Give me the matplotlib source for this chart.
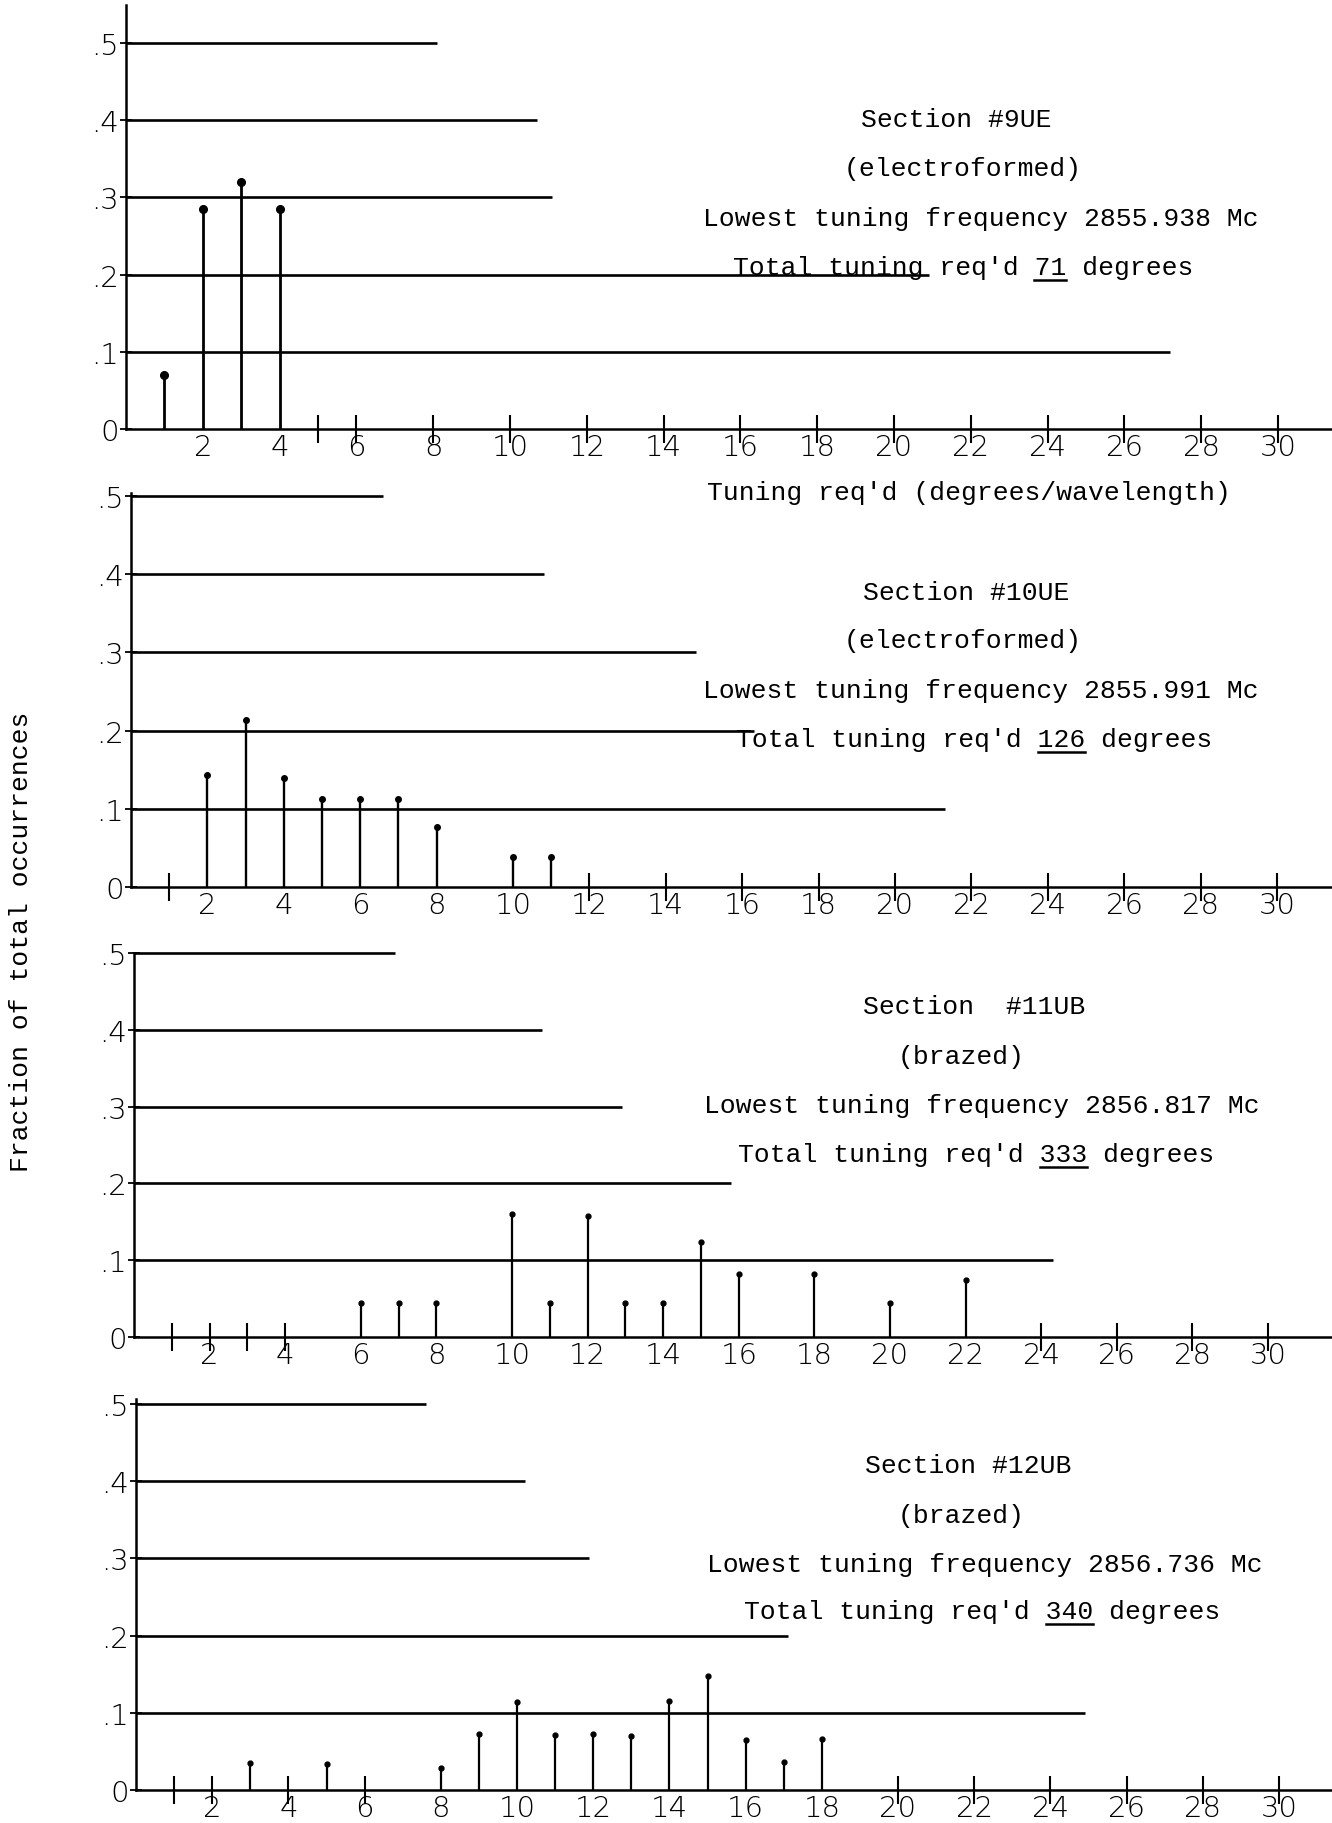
import matplotlib
matplotlib.use("Agg")
import matplotlib.pyplot as plt

W, H = 1332, 1824
MONO = "Liberation Mono"

# --- data ------------------------------------------------------------------
levels = [0.1, 0.2, 0.3, 0.4, 0.5]
level_labels = [".1", ".2", ".3", ".4", ".5"]
xtick_labels = [2, 4, 6, 8, 10, 12, 14, 16, 18, 20, 22, 24, 26, 28, 30]

s9_x = [1, 2, 3, 4]
s9_y = [0.07, 0.285, 0.32, 0.285]

s10_x = [2, 3, 4, 5, 6, 7, 8, 10, 11]
s10_y = [0.143, 0.214, 0.14, 0.113, 0.113, 0.113, 0.077, 0.038, 0.038]

s11_x = [6, 7, 8, 10, 11, 12, 13, 14, 15, 16, 18, 20, 22]
s11_y = [0.044, 0.044, 0.044, 0.16, 0.044, 0.157, 0.044, 0.044, 0.124,
         0.082, 0.082, 0.044, 0.074]

s12_x = [3, 5, 8, 9, 10, 11, 12, 13, 14, 15, 16, 17, 18]
s12_y = [0.035, 0.034, 0.029, 0.072, 0.114, 0.071, 0.072, 0.07, 0.115,
         0.148, 0.065, 0.036, 0.066]

# hand-drawn guide lines: where each level line stops (x units)
s9_line_ends = [27.2, 20.9, 11.1, 10.7, 8.1]
s10_line_ends = [21.3, 16.3, 14.8, 10.8, 6.6]
s11_line_ends = [24.3, 15.8, 12.9, 10.8, 6.9]
s12_line_ends = [24.9, 17.1, 11.9, 10.2, 7.6]

# positions where a tick was actually drawn on the x axis
s9_ticks = [5, 6, 8, 10, 12, 14, 16, 18, 20, 22, 24, 26, 28, 30]
s10_ticks = [1, 12, 14, 16, 18, 20, 22, 24, 26, 28, 30]
s11_ticks = [1, 2, 3, 4, 24, 26, 28, 30]
s12_ticks = [1, 2, 4, 6, 20, 22, 24, 26, 28, 30]

s9_text = ["Section #9UE", "(electroformed)",
           "Lowest tuning frequency 2855.938 Mc",
           "Total tuning req'd 71 degrees"]
s10_text = ["Section #10UE", "(electroformed)",
            "Lowest tuning frequency 2855.991 Mc",
            "Total tuning req'd 126 degrees"]
s11_text = ["Section  #11UB", "(brazed)",
            "Lowest tuning frequency 2856.817 Mc",
            "Total tuning req'd 333 degrees"]
s12_text = ["Section #12UB", "(brazed)",
            "Lowest tuning frequency 2856.736 Mc",
            "Total tuning req'd 340 degrees"]
underlined = ["71", "126", "333", "340"]

# --- layout (pixels on the 1332x1824 sheet) --------------------------------
# x0, px per x unit, y0 (baseline), px per 0.1, top of y axis
geom = [
    (126, 38.4, 430, 77.2, 6),
    (131, 38.2, 888, 78.2, 494),
    (134, 37.8, 1338, 76.8, 954),
    (136, 38.1, 1791, 77.2, 1400),
]
text_pos = [
    [(956, 120), (963, 169), (981, 219), (963, 268)],
    [(966, 593), (963, 641), (981, 691), (974, 740)],
    [(974, 1007), (961, 1057), (982, 1106), (976, 1155)],
    [(968, 1466), (961, 1516), (985, 1565), (982, 1612)],
]
dot_size = [5.5, 4, 3.5, 3.5]
stem_lw = [2.0, 1.7, 1.6, 1.6]

panels = [
    (s9_x, s9_y, s9_line_ends, s9_ticks, s9_text),
    (s10_x, s10_y, s10_line_ends, s10_ticks, s10_text),
    (s11_x, s11_y, s11_line_ends, s11_ticks, s11_text),
    (s12_x, s12_y, s12_line_ends, s12_ticks, s12_text),
]

fig = plt.figure(figsize=(W / 100, H / 100), dpi=100)
fig.patch.set_facecolor("white")

text_objs = []
for i, (xs, ys, ends, ticks, lines) in enumerate(panels):
    x0, ux, y0, uy, ytop = geom[i]
    xmax = (W - x0) / ux
    ymax = (y0 - ytop) / uy * 0.1
    ax = fig.add_axes([x0 / W, 1 - y0 / H, (W - x0) / W, (y0 - ytop) / H])
    ax.set_xlim(0, xmax)
    ax.set_ylim(0, ymax)
    ax.patch.set_alpha(0)
    for side in ("top", "right"):
        ax.spines[side].set_visible(False)
    for side in ("left", "bottom"):
        ax.spines[side].set_linewidth(1.8)
        ax.spines[side].set_color("black")

    # level guide lines of differing length
    for lev, end in zip(levels, ends):
        ax.plot([0, end], [lev, lev], color="black", lw=1.9,
                solid_capstyle="butt", clip_on=False)

    # stems with dots on top
    ax.vlines(xs, 0, ys, color="black", lw=stem_lw[i])
    ax.plot(xs, ys, "o", color="black", ms=dot_size[i], clip_on=False)

    # x axis: labels at evens, tick marks only where drawn
    ax.xaxis.remove_overlapping_locs = False
    ax.set_xticks(xtick_labels)
    ax.set_xticklabels([str(v) for v in xtick_labels])
    ax.tick_params(axis="x", which="major", length=0, pad=3,
                   labelsize=21)
    ax.set_xticks(ticks, minor=True)
    ax.tick_params(axis="x", which="minor", direction="inout", length=20,
                   width=1.5)

    ax.set_yticks([0] + levels)
    ax.set_yticklabels(["0"] + level_labels)
    ax.tick_params(axis="y", direction="inout", length=8, width=1.3,
                   labelsize=21, pad=1)
    for lab in ax.get_xticklabels() + ax.get_yticklabels():
        lab.set_fontfamily("DejaVu Sans")
        lab.set_fontweight("light")

    row = []
    for (tx, ty), s in zip(text_pos[i], lines):
        t = fig.text(tx / W, 1 - ty / H, s, ha="center", va="center",
                     family=MONO, fontsize=19)
        row.append(t)
    text_objs.append(row)

fig.text(969 / W, 1 - 493 / H, "Tuning req'd (degrees/wavelength)",
         ha="center", va="center", family=MONO, fontsize=19)
fig.text(21 / W, 1 - 942 / H, "Fraction of total occurrences",
         ha="center", va="center", rotation=90, family=MONO, fontsize=19)

# underline the total-degrees figure in each block
fig.canvas.draw()
renderer = fig.canvas.get_renderer()
for row, word in zip(text_objs, underlined):
    t = row[3]
    s = t.get_text()
    bb = t.get_window_extent(renderer)
    cw = bb.width / len(s)
    k = s.index(word)
    xa = bb.x0 + k * cw
    xb = xa + len(word) * cw
    yline = bb.y0 - 1
    fig.add_artist(plt.Line2D([xa / W, xb / W], [yline / H, yline / H],
                              transform=fig.transFigure, color="black",
                              lw=1.8))

fig.savefig("out.png", dpi=100)
